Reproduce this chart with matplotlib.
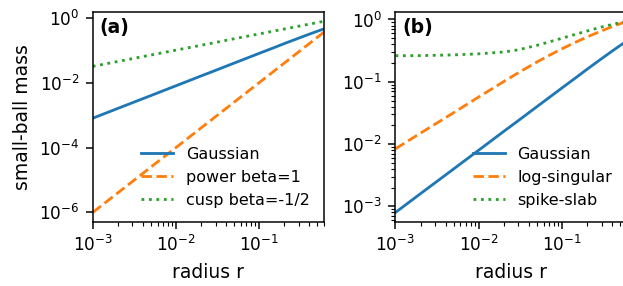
import matplotlib
matplotlib.use("Agg")
import matplotlib.pyplot as plt
from matplotlib.ticker import NullLocator

# radius grid
r = [1e-3, 2e-3, 5e-3, 1e-2, 2e-2, 3e-2, 5e-2, 7e-2, 0.1, 0.15, 0.2, 0.3, 0.4, 0.5, 0.6]

# panel (a)
gauss = [7.98e-4, 1.60e-3, 3.99e-3, 7.98e-3, 1.60e-2, 2.39e-2, 3.99e-2, 5.58e-2,
         0.0797, 0.119, 0.159, 0.236, 0.311, 0.383, 0.452]
power_b1 = [1e-6, 4e-6, 2.5e-5, 1e-4, 4e-4, 9e-4, 2.5e-3, 4.9e-3,
            0.01, 0.0225, 0.04, 0.09, 0.16, 0.25, 0.36]
cusp_bm12 = [0.0316, 0.0447, 0.0707, 0.1, 0.141, 0.173, 0.224, 0.265,
             0.316, 0.387, 0.447, 0.548, 0.632, 0.707, 0.775]

# panel (b)
log_sing = [0.0084, 0.0150, 0.0319, 0.0571, 0.101, 0.140, 0.208, 0.265,
            0.339, 0.440, 0.524, 0.659, 0.766, 0.857, 0.937]
spike_slab = [0.262, 0.263, 0.270, 0.281, 0.301, 0.326, 0.385, 0.436,
              0.50, 0.586, 0.653, 0.759, 0.832, 0.891, 0.933]

blue, orange, green = '#1f77b4', '#ff7f0e', '#2ca02c'

DPI = 135
fig = plt.figure(figsize=(624 / DPI, 286 / DPI), dpi=DPI)
W = 0.3707
ax1 = fig.add_axes([0.1486, 0.2238, W, 0.7353])
ax2 = fig.add_axes([0.6338, 0.2238, W, 0.7353])

ax1.loglog(r, gauss, color=blue, label='Gaussian')
ax1.loglog(r, power_b1, color=orange, ls='--', label='power beta=1')
ax1.loglog(r, cusp_bm12, color=green, ls=':', label='cusp beta=-1/2')

ax2.loglog(r, gauss, color=blue, label='Gaussian')
ax2.loglog(r, log_sing, color=orange, ls='--', label='log-singular')
ax2.loglog(r, spike_slab, color=green, ls=':', label='spike-slab')

for ax, tag in [(ax1, '(a)'), (ax2, '(b)')]:
    ax.set_xlim(r[0], r[-1])
    ax.set_xlabel('radius r', fontsize=10)
    ax.tick_params(labelsize=9)
    ax.legend(loc='lower right', frameon=False, fontsize=8.5)
    ax.text(0.03, 0.97, tag, transform=ax.transAxes, va='top', ha='left',
            fontsize=10, fontweight='bold')

ax1.set_yticks([1e-6, 1e-4, 1e-2, 1])
ax1.yaxis.set_minor_locator(NullLocator())
ax1.set_ylabel('small-ball mass', fontsize=10)

fig.savefig('out.png', dpi=DPI)
